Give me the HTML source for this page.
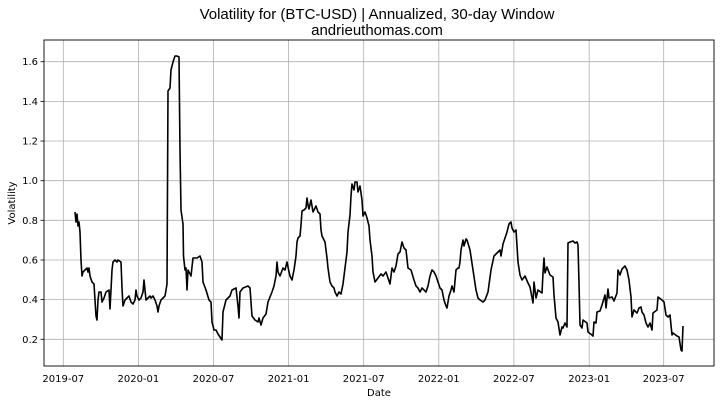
<!DOCTYPE html>
<html><head><meta charset="utf-8"><style>
body{margin:0;background:#fff;}
svg{display:block;font-family:"DejaVu Sans","Liberation Sans",sans-serif;}
</style></head><body>
<svg width="721" height="404" viewBox="0 0 721 404" xmlns="http://www.w3.org/2000/svg">
<text x="377" y="19" text-anchor="middle" font-size="15" font-family="Liberation Sans,sans-serif" fill="#000">Volatility for (BTC-USD) | Annualized, 30-day Window</text>
<text x="377" y="35" text-anchor="middle" font-size="15" font-family="Liberation Sans,sans-serif" fill="#000">andrieuthomas.com</text>
<g stroke="#b0b0b0" stroke-width="0.8">
<line x1="44" x2="714" y1="61.7" y2="61.7"/><line x1="44" x2="714" y1="101.4" y2="101.4"/><line x1="44" x2="714" y1="141" y2="141"/><line x1="44" x2="714" y1="180.7" y2="180.7"/><line x1="44" x2="714" y1="220.3" y2="220.3"/><line x1="44" x2="714" y1="260" y2="260"/><line x1="44" x2="714" y1="299.6" y2="299.6"/><line x1="44" x2="714" y1="339.3" y2="339.3"/>
<line y1="40" y2="366" x1="63.3" x2="63.3"/><line y1="40" y2="366" x1="138.4" x2="138.4"/><line y1="40" y2="366" x1="213.5" x2="213.5"/><line y1="40" y2="366" x1="288.6" x2="288.6"/><line y1="40" y2="366" x1="363.7" x2="363.7"/><line y1="40" y2="366" x1="438.8" x2="438.8"/><line y1="40" y2="366" x1="513.9" x2="513.9"/><line y1="40" y2="366" x1="589.2" x2="589.2"/><line y1="40" y2="366" x1="663.7" x2="663.7"/>
</g>
<rect x="44" y="40" width="670" height="326" fill="none" stroke="#000" stroke-width="0.9"/>
<g font-size="10" fill="#000" text-anchor="end">
<text x="38" y="65">1.6</text><text x="38" y="105">1.4</text><text x="38" y="144.5">1.2</text><text x="38" y="184">1.0</text><text x="38" y="224">0.8</text><text x="38" y="263.5">0.6</text><text x="38" y="303">0.4</text><text x="38" y="343">0.2</text>
</g>
<g stroke="#000" stroke-width="0.8"><line x1="40.5" x2="44" y1="61.7" y2="61.7"/><line x1="40.5" x2="44" y1="101.4" y2="101.4"/><line x1="40.5" x2="44" y1="141" y2="141"/><line x1="40.5" x2="44" y1="180.7" y2="180.7"/><line x1="40.5" x2="44" y1="220.3" y2="220.3"/><line x1="40.5" x2="44" y1="260" y2="260"/><line x1="40.5" x2="44" y1="299.6" y2="299.6"/><line x1="40.5" x2="44" y1="339.3" y2="339.3"/></g>
<g font-size="10" fill="#000" text-anchor="middle">
<text x="63.3" y="382">2019-07</text><text x="138.4" y="382">2020-01</text><text x="213.5" y="382">2020-07</text><text x="288.6" y="382">2021-01</text><text x="363.7" y="382">2021-07</text><text x="438.8" y="382">2022-01</text><text x="513.9" y="382">2022-07</text><text x="589.2" y="382">2023-01</text><text x="663.7" y="382">2023-07</text>
</g>
<text x="379" y="396" text-anchor="middle" font-size="10">Date</text>
<text transform="translate(15,203) rotate(-90)" text-anchor="middle" font-size="10">Volatility</text>
<polyline fill="none" stroke="#000" stroke-width="1.6" stroke-linejoin="round" points="
75,212 76,222 77,214 78,226 79,222 80,232 81,260 82,276 83,272 85,270 87,268 88,272 89,268 90,276 92,282 94,284 95,300 96,316 97,320 98,300 99,292 101,292 102,302 104,298 106,292 109,290 110,309 111,290 112,270 113,262 115,260 117,262 118,260 121,262 122,288 123,306 125,300 127,298 129,296 131,302 133,304 135,300 136,290 137,296 139,300 141,298 143,292 144,280 146,300 148,298 150,296 151,298 153,296 155,300 157,306 158,312 159,306 161,300 163,298 165,296 166,290 167,284 168,91 170,88 171,70 173,62 175,56 177,56 179,57 180,150 181,210 183,224 183.5,256 185,270 186,268 187,290 188,270 191,276 193,258 197,258 200,256 202,262 203,282 206,290 209,300 211,302 212,322 214,330 216,330 218,334 222,340 223,312 226,300 230,296 232,290 236,288 238,306 239,318 240,292 243,288 248,286 250,288 252,316 255,320 258,322 259,318 261,325 263,318 266,314 268,302 272,292 274,286 276,276 277,262 278,272 280,276 283,268 285,270 287,262 289,272 290,276 292,280 294,270 296,256 297,242 298,238 300,236 301,225 302,211 304,210 306,208 307,198 308,205 309,209 311,200 313,212 316,206 318,212 320,214 321,230 322,236 324,240 325,242 327,258 328,268 330,282 332,286 334,288 335,292 337,296 339,292 341,294 343,284 345,268 347,252 348,232 350,215 351,196 352,184 354,190 355,182 357,182 358,192 360,186 362,200 363,216 365,212 367,218 369,226 370,240 372,256 373,272 375,282 378,278 381,274 383,276 386,272 388,278 390,284 392,268 394,272 396,266 398,254 400,252 402,242 404,248 406,250 408,268 411,270 414,280 416,286 418,288 420,292 422,288 424,290 426,292 428,286 430,276 432,270 434,272 436,276 438,282 440,288 442,290 444,300 446,306 447,308 449,296 451,290 452,286 454,292 456,270 458,268 459,268 460,262 461,250 463,240 464,246 466,239 467,240 470,250 473,270 476,290 478,298 480,300 483,302 485,300 488,292 491,270 494,256 496,254 498,252 500,250 501,256 503,244 505,238 507,232 509,224 511,222 512,228 514,232 516,230 518,262 520,275 522,280 525,276 528,283 530,287 533,303 534,282 536,298 538,290 542,293 543,273 544,258 545,273 547,267 550,275 553,277 554,295 556,318 558,322 560,335 562,327 563,328 565,323 567,327 568,243 570,242 573,241 575,243 577,242 578,245 579,283 580,325 582,328 583,320 587,323 588,332 592,335 593,336 594,322 596,323 597,312 600,311 602,305 605,295 606,308 608,289 609,298 612,297 614,301 617,293 618,270 620,275 622,269 625,266 627,270 629,280 631,297 632,317 634,310 637,313 639,308 641,307 642,312 644,315 646,323 648,327 650,323 652,330 653,313 657,310 658,297 662,300 664,302 666,315 668,317 670,315 672,335 673,333 677,336 679,337 681,350 682,351 683,326"/>
</svg>
</body></html>
